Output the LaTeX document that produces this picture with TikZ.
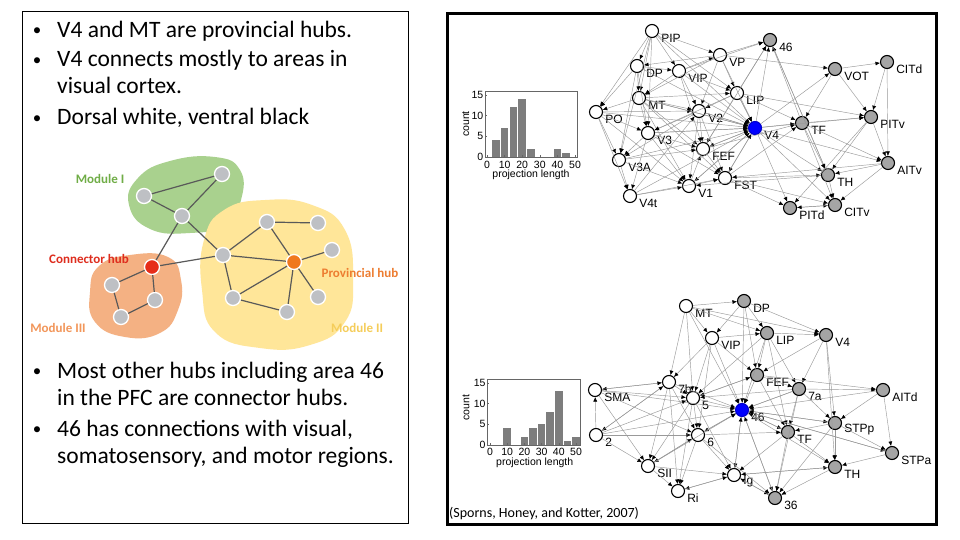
\documentclass[tikz,border=0pt]{standalone}
\usepackage{fontspec}
\setmainfont{Carlito}
\newfontfamily\arialfont{Liberation Sans}
\usetikzlibrary{arrows.meta}

\definecolor{modgreen}{RGB}{169,209,142}
\definecolor{modyellow}{RGB}{255,230,153}
\definecolor{modorange}{RGB}{244,177,131}
\definecolor{txtgreen}{RGB}{112,173,71}
\definecolor{txtred}{RGB}{222,45,30}
\definecolor{txtorange}{RGB}{237,125,49}
\definecolor{txtorangeb}{RGB}{242,150,90}
\definecolor{txtyellow}{RGB}{245,205,90}
\definecolor{dotgray}{RGB}{190,192,196}
\definecolor{hubred}{RGB}{230,45,25}
\definecolor{huborange}{RGB}{240,120,30}
\definecolor{areagray}{RGB}{165,165,165}
\definecolor{bargray}{RGB}{125,125,125}

\tikzset{
  line/.style={font=\fontsize{23.5}{27}\selectfont, anchor=base west, inner sep=0pt},
  dotmark/.style={font=\fontsize{17}{17}\selectfont, anchor=base, inner sep=0pt},
  modlbl/.style={font=\bfseries\fontsize{13}{13}\selectfont, inner sep=0pt},
  dot/.style={circle, fill=dotgray, draw=white, line width=1.3pt, minimum size=15pt, inner sep=0pt},
  link/.style={draw=black!65, line width=1.2pt},
  area/.style={circle, draw=black, line width=1.1pt, minimum size=13pt, inner sep=0pt},
  wa/.style={area, fill=white},
  ga/.style={area, fill=areagray},
  ba/.style={area, fill=blue, draw=blue!80!black},
  arealbl/.style={font=\arialfont\fontsize{12}{12}\selectfont, inner sep=0pt, yshift=-7pt, xshift=2pt},
  con/.style={draw=black!40, line width=0.45pt, -{Latex[length=4.5pt,width=4pt,color=black]}},
  bar/.style={fill=bargray},
  axisline/.style={draw=black!60, line width=0.5pt},
  tick/.style={font=\arialfont\fontsize{10.5}{10.5}\selectfont, inner sep=0pt}
}

\begin{document}
\begin{tikzpicture}[x=1pt, y=-1pt]
\useasboundingbox (0,0) rectangle (960,540);
\fill[white] (0,0) rectangle (960,540);

% left text panel
\draw[line width=0.8pt] (22,11) rectangle (408,523);
\node[dotmark] (d1) at (37,36) {\textbullet};
\node[line] (t1) at (57,37.5) {V4 and MT are provincial hubs.};
\node[dotmark] (d2) at (37,65.5) {\textbullet};
\node[line] (t2a) at (57,67) {V4 connects mostly to areas in};
\node[line] (t2b) at (57,94) {visual cortex.};
\node[dotmark] (d3) at (37,123.5) {\textbullet};
\node[line] (t3) at (57,125) {Dorsal white, ventral black};

\node[dotmark] (d4) at (37,376.5) {\textbullet};
\node[line] (t4a) at (57,378) {Most other hubs including area 46};
\node[line] (t4b) at (57,405) {in the PFC are connector hubs.};
\node[dotmark] (d5) at (37,434.5) {\textbullet};
\node[line] (t5a) at (57,436) {46 has connections with visual,};
\node[line] (t5b) at (57,463) {somatosensory, and motor regions.};

% modules
\fill[modgreen] plot[smooth cycle, tension=0.8] coordinates {(129,205) (138,178) (170,161) (215,157) (240,170) (241,200) (226,225) (190,233) (150,229)};
\fill[modorange] plot[smooth cycle, tension=0.8] coordinates {(90,292) (99,266) (130,255) (168,257) (181,280) (178,310) (160,333) (125,337) (95,322)};
\fill[modyellow] plot[smooth cycle, tension=0.8] coordinates {(204,240) (224,210) (265,200) (312,205) (345,230) (353,280) (345,322) (310,345) (260,348) (215,332) (202,290)};

\foreach \n/\x/\y in {g1/144/196, g2/222/174, g3/182/216, y1/267/222, y2/318/223,
  y3/223/255, y4/332/250, y5/318/297, y6/233/298, y7/287/312, o1/112/285, o2/155/300, o3/121/317}
  \node[dot] (\n) at (\x,\y) {};
\node[dot, fill=hubred] (chub) at (152,267) {};
\node[dot, fill=huborange] (phub) at (294,262) {};

\foreach \a/\b in {g1/g2, g1/g3, g3/g2, g3/chub, g3/y3, chub/y3, chub/o1, chub/o2, o1/o3, o3/o2,
  y3/y1, y1/y2, y1/phub, y3/phub, y3/y6, y6/phub, y6/y7, phub/y4, phub/y5, phub/y7}
  \draw[link] (\a) -- (\b);

\node[modlbl, text=txtgreen] (lblI) at (100,179) {Module I};
\node[modlbl, text=txtred] (lblC) at (89,259) {Connector hub};
\node[modlbl, text=txtorange] (lblP) at (360,273) {Provincial hub};
\node[modlbl, text=txtorangeb] (lblIII) at (58,328) {Module III};
\node[modlbl, text=txtyellow] (lblII) at (357,328) {Module II};

% right panel
\draw[line width=3pt] (447,14) rectangle (936,524);

% top histogram
\begin{scope}[shift={(487,157)}, x=1.76pt, y=4.13pt]
  \foreach \v/\h in {5/4, 10/7, 15/12, 20/14, 25/2, 40/2, 45/1}
    \fill[bar] (\v-2.2,0) rectangle (\v+2.2,\h);
  \draw[axisline] (-1.1,0) rectangle (51.1,16);
  \foreach \v in {0,10,...,50} {
    \draw[axisline] (\v,0) -- (\v,0.4);
    \node[tick] at (\v,-2) {\v};
  }
  \foreach \c in {0,5,10,15} {
    \draw[axisline] (-1.1,\c) -- (0,\c);
    \node[tick, anchor=east] at (-2,\c) {\c};
  }
  \node[tick, rotate=90] (cntA) at (-12,8) {count};
  \node[tick] (plA) at (25,-4.3) {projection length};
\end{scope}

% bottom histogram
\begin{scope}[shift={(490,445)}, x=1.72pt, y=4.13pt]
  \foreach \v/\h in {10/4, 20/2, 25/4, 30/5, 35/8, 40/13, 45/1, 50/2}
    \fill[bar] (\v-2.2,0) rectangle (\v+2.2,\h);
  \draw[axisline] (-1.7,0) rectangle (52.4,16);
  \foreach \v in {0,10,...,50} {
    \draw[axisline] (\v,0) -- (\v,0.4);
    \node[tick] at (\v,-1.7) {\v};
  }
  \foreach \c in {0,5,10,15} {
    \draw[axisline] (-1.7,\c) -- (-0.6,\c);
    \node[tick, anchor=east] at (-2.5,\c) {\c};
  }
  \node[tick, rotate=90] (cntB) at (-14,9) {count};
  \node[tick] (plB) at (26,-4.2) {projection length};
\end{scope}

% top network: visual
\foreach \n/\x/\y/\s in {PIP/652/31/wa, DP/637/66/wa, VIP/679/71/wa, VP/720/55/wa, 46/770/40/ga,
  MT/639/98/wa, LIP/737/93/wa, PO/596/112/wa, V2/699/111/wa, V4/755/128/ba, V3/648/133/wa,
  FEF/703/149/wa, V3A/619/160/wa, FST/725/178/wa, V1/689/186/wa, V4t/630/196/wa,
  VOT/835/69/ga, CITd/887/62/ga, TF/802/123/ga, PITv/871/117/ga, AITv/888/163/ga,
  TH/828/175/ga, CITv/835/205/ga, PITd/790/208/ga}
  \node[\s, label={[arealbl]east:\n}] (t\n) at (\x,\y) {};

\foreach \a/\b in {PIP/DP, PIP/MT, PIP/VIP, PIP/VP, PIP/PO, PIP/V3, PIP/V3A, PIP/LIP,
  DP/PO, DP/MT, DP/V3A, DP/VIP, DP/V3, VIP/MT, VIP/VP, VIP/LIP, VIP/V2, VIP/46, VIP/FEF,
  VP/46, VP/LIP, VP/V2, VP/V4, VP/VOT, VP/MT, VP/DP, MT/PO, MT/V3, MT/V2, MT/FEF, MT/V4,
  MT/V1, MT/FST, MT/LIP, LIP/46, LIP/V4, LIP/V2, LIP/FEF, LIP/V3, LIP/TF, LIP/PITv,
  PO/V3A, PO/V4t, PO/V3, PO/V2, PO/V1, V2/V4, V2/V3, V2/V1, V2/FEF, V2/FST, V2/V3A,
  V3/V4, V3/V1, V3/V3A, V3/FEF, V3/V4t, V3/FST, V4/TF, V4/PITv, V4/PITd, V4/AITv, V4/TH,
  V4/FEF, V4/V1, V4/FST, V4/46, V4/VOT, V4/CITv, V3A/V4t, V3A/V1, V3A/FEF, V4t/V1,
  V4t/FST, V4t/V2, V1/FST, V1/FEF, V1/V4, FST/TH, FST/CITv, FST/PITd, FST/TF, FEF/46,
  FEF/TF, FEF/FST, TF/46, TF/TH, TF/CITv, TF/PITv, TF/AITv, VOT/CITd, VOT/PITv, VOT/TF,
  CITd/PITv, CITd/AITv, PITv/AITv, PITv/TH, PITv/PITd, AITv/TH, AITv/CITv, TH/CITv,
  TH/46, PITd/CITv, TH/V1, 46/TH, AITv/FST, CITv/PITd, MT/V4, V2/V4, V3/V4, FEF/V4,
  LIP/V4, FST/V4, PO/V4, V3A/V4, V4t/V4, VIP/V4, DP/V4, PIP/V4}
  \draw[con] (t\a) -- (t\b);

% bottom network: somatomotor
\foreach \n/\x/\y/\s in {MT/686/306/wa, DP/744/301/ga, VIP/712/338/wa, LIP/767/333/ga,
  V4/826/335/ga, 7b/669/382/wa, SMA/595/390/wa, FEF/757/375/ga, 7a/799/389/ga,
  AITd/883/390/ga, 5/693/398/wa, 46/742/410/ba, STPp/835/423/ga, 2/596/435/wa,
  6/698/435/wa, TF/788/432/ga, STPa/892/453/ga, SII/648/466/wa, Ig/734/475/wa,
  TH/835/467/ga, Ri/678/491/wa, 36/775/498/ga}
  \node[\s, label={[arealbl]east:\n}] (b\n) at (\x,\y) {};

\foreach \a/\b in {MT/VIP, MT/7b, MT/5, MT/LIP, MT/V4, MT/DP, DP/VIP, DP/LIP, DP/V4,
  DP/46, DP/FEF, VIP/7b, VIP/LIP, VIP/5, VIP/46, VIP/6, VIP/FEF, LIP/V4, LIP/FEF,
  LIP/46, LIP/7a, LIP/5, LIP/TF, V4/7a, V4/STPp, V4/TH, V4/FEF, 7b/SMA, 7b/5, 7b/SII,
  7b/Ri, 7b/46, 7b/6, 7b/2, SMA/7b, SMA/5, SMA/6, SMA/SII, SMA/46, 2/SMA, 2/5, 2/6,
  2/SII, 2/46, 2/7b, FEF/7a, FEF/46, FEF/AITd, FEF/TF, FEF/5, 7a/AITd, 7a/46, 7a/STPp,
  7a/TF, 7a/36, 7a/5, AITd/STPp, AITd/STPa, AITd/46, 5/46, 5/6, 5/Ig, 5/SII, 5/Ri,
  5/FEF, 46/6, 46/TF, 46/STPp, 46/36, 46/Ig, 46/STPa, 46/TH, 6/Ig, 6/SII, 6/Ri, 6/36,
  6/TF, STPp/TH, STPp/TF, STPp/STPa, STPp/36, TF/TH, TF/36, TF/Ig, STPa/TH, STPa/46,
  SII/Ig, SII/Ri, SII/6, Ig/Ri, Ig/TH, Ig/36, TH/36, TH/Ig, Ri/Ig, 36/Ig,
  6/46, Ig/46, TF/46, STPp/46, 7a/46, SII/46, 36/46, MT/46}
  \draw[con] (b\a) -- (b\b);

\node[font=\fontsize{14}{14}\selectfont, anchor=base west, inner sep=0pt] (cite) at (449,517) {(Sporns, Honey, and Kotter, 2007)};
\end{tikzpicture}
\end{document}
